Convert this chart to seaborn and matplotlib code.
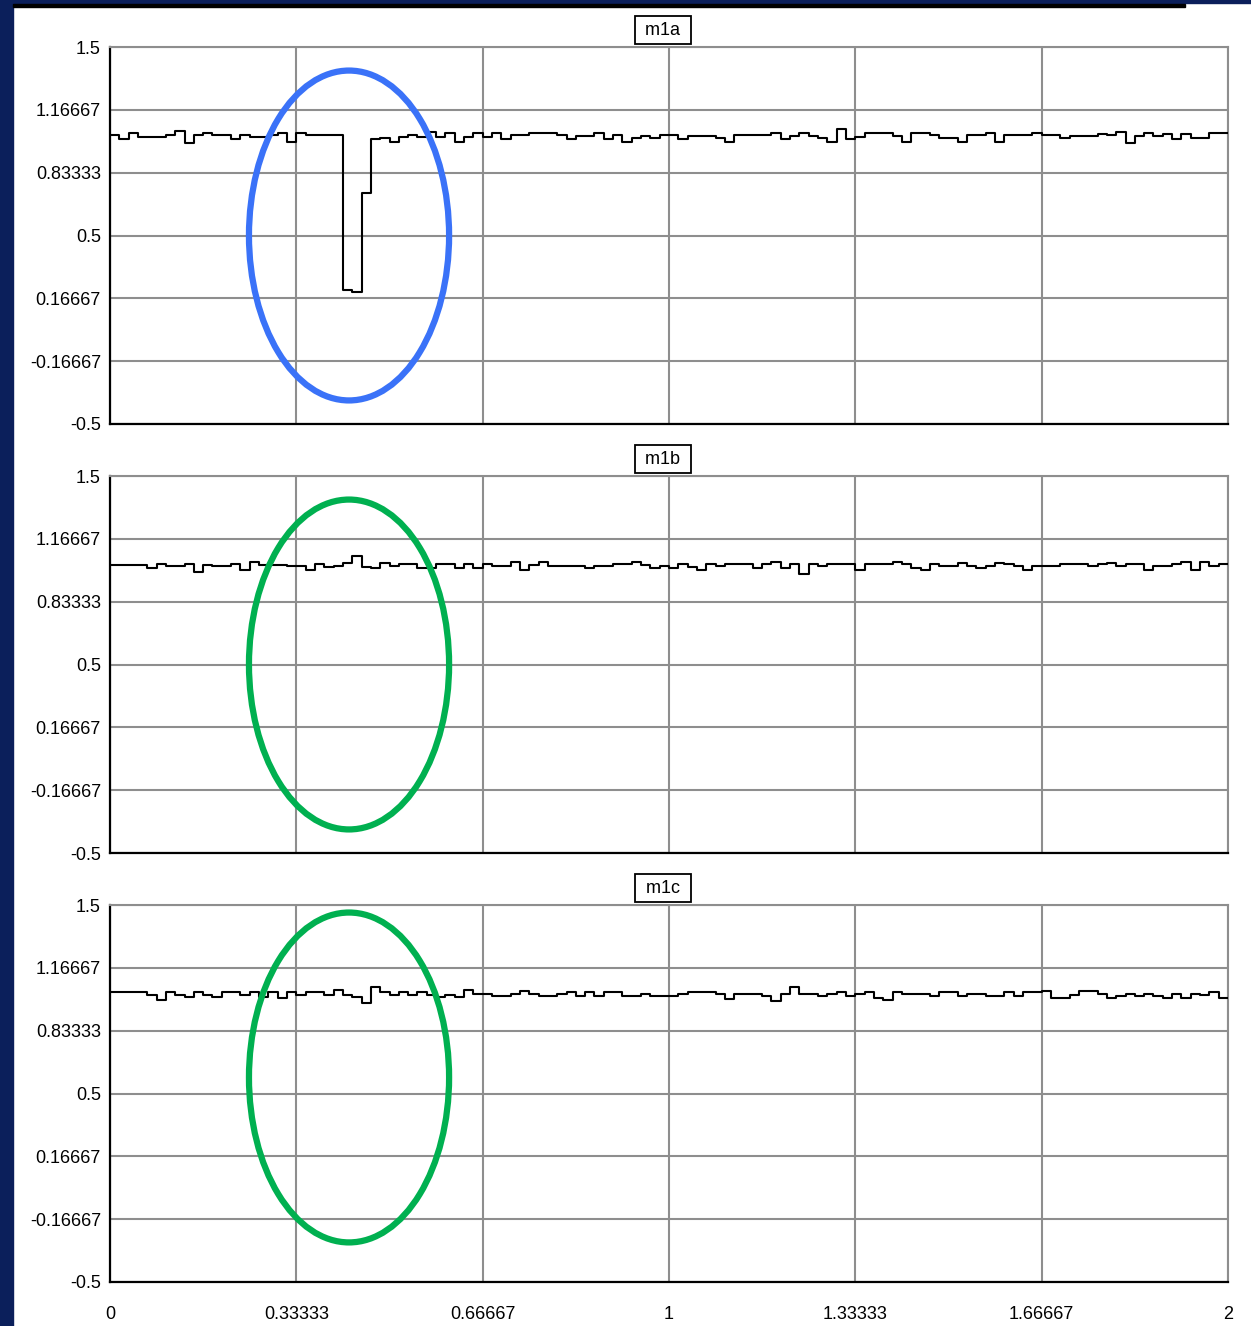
import numpy as np
import pandas as pd
import seaborn as sns
import matplotlib.pyplot as plt
from matplotlib.patches import Ellipse, Rectangle

# ---- data: 120 equal-width samples over t in [0, 2] per channel ----
t_end = 2.0
m1a = [1.033, 1.010, 1.042, 1.021, 1.021, 1.021, 1.033, 1.054, 0.989, 1.033,
       1.045, 1.033, 1.033, 1.010, 1.033, 1.021, 1.021, 1.033, 1.042, 0.998,
       1.042, 1.033, 1.033, 1.033, 1.033, 0.211, 0.202, 0.724, 1.010, 1.016,
       0.998, 1.021, 1.033, 1.021, 1.051, 1.024, 1.042, 0.998, 1.024, 1.042,
       1.024, 1.042, 1.010, 1.033, 1.033, 1.042, 1.042, 1.042, 1.033, 1.010,
       1.028, 1.028, 1.042, 1.010, 1.033, 0.994, 1.016, 1.028, 1.016, 1.033,
       1.033, 1.010, 1.028, 1.028, 1.028, 1.016, 0.994, 1.033, 1.033, 1.033,
       1.033, 1.042, 1.010, 1.028, 1.042, 1.028, 1.016, 0.994, 1.065, 1.010,
       1.024, 1.042, 1.042, 1.042, 1.028, 0.994, 1.042, 1.042, 1.033, 1.016,
       1.016, 0.994, 1.033, 1.033, 1.042, 0.994, 1.033, 1.033, 1.033, 1.042,
       1.033, 1.033, 1.016, 1.028, 1.028, 1.028, 1.039, 1.033, 1.051, 0.989,
       1.028, 1.042, 1.028, 1.039, 1.010, 1.039, 1.016, 1.016, 1.042, 1.042]
m1b = [1.028, 1.028, 1.028, 1.028, 1.010, 1.033, 1.023, 1.023, 1.033, 0.989,
       1.028, 1.023, 1.023, 1.033, 1.001, 1.045, 1.028, 1.028, 1.028, 1.023,
       1.023, 1.001, 1.033, 1.016, 1.023, 1.037, 1.077, 1.016, 1.010, 1.040,
       1.023, 1.033, 1.033, 1.010, 1.010, 1.033, 1.033, 1.010, 1.033, 1.010,
       1.033, 1.023, 1.023, 1.045, 1.001, 1.028, 1.045, 1.023, 1.023, 1.023,
       1.023, 1.010, 1.023, 1.023, 1.033, 1.033, 1.045, 1.028, 1.010, 1.023,
       1.010, 1.033, 1.016, 1.001, 1.033, 1.023, 1.033, 1.033, 1.033, 1.010,
       1.033, 1.045, 1.010, 1.033, 0.978, 1.033, 1.020, 1.033, 1.033, 1.033,
       1.001, 1.033, 1.033, 1.033, 1.045, 1.033, 1.010, 1.001, 1.033, 1.023,
       1.023, 1.040, 1.023, 1.010, 1.020, 1.040, 1.033, 1.020, 1.001, 1.023,
       1.023, 1.023, 1.033, 1.033, 1.033, 1.023, 1.033, 1.040, 1.023, 1.033,
       1.033, 1.001, 1.023, 1.020, 1.033, 1.045, 1.001, 1.045, 1.023, 1.033]
m1c = [1.036, 1.036, 1.036, 1.036, 1.024, 0.994, 1.036, 1.024, 1.012, 1.036,
       1.024, 1.012, 1.036, 1.036, 1.024, 1.036, 1.012, 1.036, 1.007, 1.036,
       1.024, 1.036, 1.036, 1.024, 1.050, 1.024, 1.012, 0.980, 1.065, 1.036,
       1.024, 1.036, 1.024, 1.036, 1.024, 1.012, 1.024, 1.012, 1.050, 1.029,
       1.029, 1.015, 1.015, 1.029, 1.046, 1.029, 1.015, 1.015, 1.029, 1.036,
       1.015, 1.036, 1.015, 1.036, 1.036, 1.015, 1.015, 1.029, 1.015, 1.015,
       1.019, 1.029, 1.036, 1.036, 1.036, 1.029, 1.001, 1.029, 1.029, 1.029,
       1.015, 0.992, 1.029, 1.065, 1.029, 1.029, 1.015, 1.029, 1.036, 1.015,
       1.029, 1.036, 1.006, 0.994, 1.036, 1.029, 1.029, 1.029, 1.015, 1.036,
       1.036, 1.015, 1.029, 1.029, 1.015, 1.015, 1.036, 1.015, 1.036, 1.036,
       1.046, 1.006, 1.006, 1.024, 1.046, 1.046, 1.029, 1.006, 1.015, 1.029,
       1.015, 1.029, 1.015, 1.006, 1.029, 1.006, 1.029, 1.024, 1.036, 1.006]
channel_names = ["m1a", "m1b", "m1c"]
channels = [m1a, m1b, m1c]

tick_vals = [-0.5, -1 / 6, 1 / 6, 0.5, 5 / 6, 7 / 6, 1.5]
ytick_labels = ["-0.5", "-0.16667", "0.16667", "0.5", "0.83333", "1.16667", "1.5"]
xtick_vals = [0, 1 / 3, 2 / 3, 1, 4 / 3, 5 / 3, 2]
xtick_labels = ["0", "0.33333", "0.66667", "1", "1.33333", "1.66667", "2"]

# highlight ellipses (centre t, centre value, width in t, height in value, colour)
highlights = [(0.4276, 0.50, 0.358, 1.75, "#3a72f8"),
              (0.4276, 0.50, 0.358, 1.75, "#00b050"),
              (0.4276, 0.585, 0.358, 1.75, "#00b050")]

sns.set_theme(style="white")
plt.rcParams["font.family"] = ["Liberation Sans", "DejaVu Sans"]

W, H = 1251, 1326
fig = plt.figure(figsize=(W / 100, H / 100), dpi=100)
fig.patch.set_facecolor("white")

navy = "#0b1f5b"
fig.patches.append(Rectangle((0, 0), 13 / W, 1, transform=fig.transFigure,
                             color=navy, zorder=0))
fig.patches.append(Rectangle((0, 1 - 3 / H), 1, 3 / H, transform=fig.transFigure,
                             color=navy, zorder=0))
fig.patches.append(Rectangle((13 / W, 1 - 7 / H), (1185 - 13) / W, 3.5 / H,
                             transform=fig.transFigure, color="black", zorder=1))

panel_tops = [47, 476, 905]
panel_h = 377
left_px, right_px = 110, 1228
grid_col = "#8e8e8e"

n = len(m1a)
for k, (name, vals) in enumerate(zip(channel_names, channels)):
    top = panel_tops[k]
    ax = fig.add_axes([left_px / W, 1 - (top + panel_h) / H,
                       (right_px - left_px) / W, panel_h / H])
    t = np.arange(n + 1) * t_end / n
    v = list(vals) + [vals[-1]]
    df = pd.DataFrame({"t": t, "v": v})
    sns.lineplot(data=df, x="t", y="v", ax=ax, color="black", lw=1.5,
                 drawstyle="steps-post", zorder=3)
    ax.set_xlim(0, t_end)
    ax.set_ylim(-0.5, 1.5)
    ax.set_xlabel("")
    ax.set_ylabel("")
    ax.set_yticks(tick_vals)
    ax.set_yticklabels(ytick_labels)
    ax.set_xticks(xtick_vals)
    if k == 2:
        ax.set_xticklabels(xtick_labels)
    else:
        ax.set_xticklabels([])
    ax.grid(True, color=grid_col, lw=1.5)
    ax.set_axisbelow(True)
    ax.tick_params(axis="both", length=3, width=1, color=grid_col,
                   labelsize=13, labelcolor="black")
    ax.tick_params(axis="y", pad=3.5)
    ax.tick_params(axis="x", pad=14)
    for s in ("left", "bottom"):
        ax.spines[s].set_color("black")
        ax.spines[s].set_linewidth(1.6)
    for s in ("top", "right"):
        ax.spines[s].set_color(grid_col)
        ax.spines[s].set_linewidth(1.5)
    ax.text(0.4946, 1.045, f" {name} ", transform=ax.transAxes, ha="center",
            va="center", fontsize=13, color="black",
            bbox=dict(boxstyle="square,pad=0.32", fc="white", ec="black", lw=1.3))
    cx, cy, ew, eh, col = highlights[k]
    ax.add_patch(Ellipse((cx, cy), ew, eh, fill=False, ec=col, lw=4.5,
                         zorder=4, clip_on=False))

fig.savefig("out.png", dpi=100, facecolor=fig.get_facecolor())
